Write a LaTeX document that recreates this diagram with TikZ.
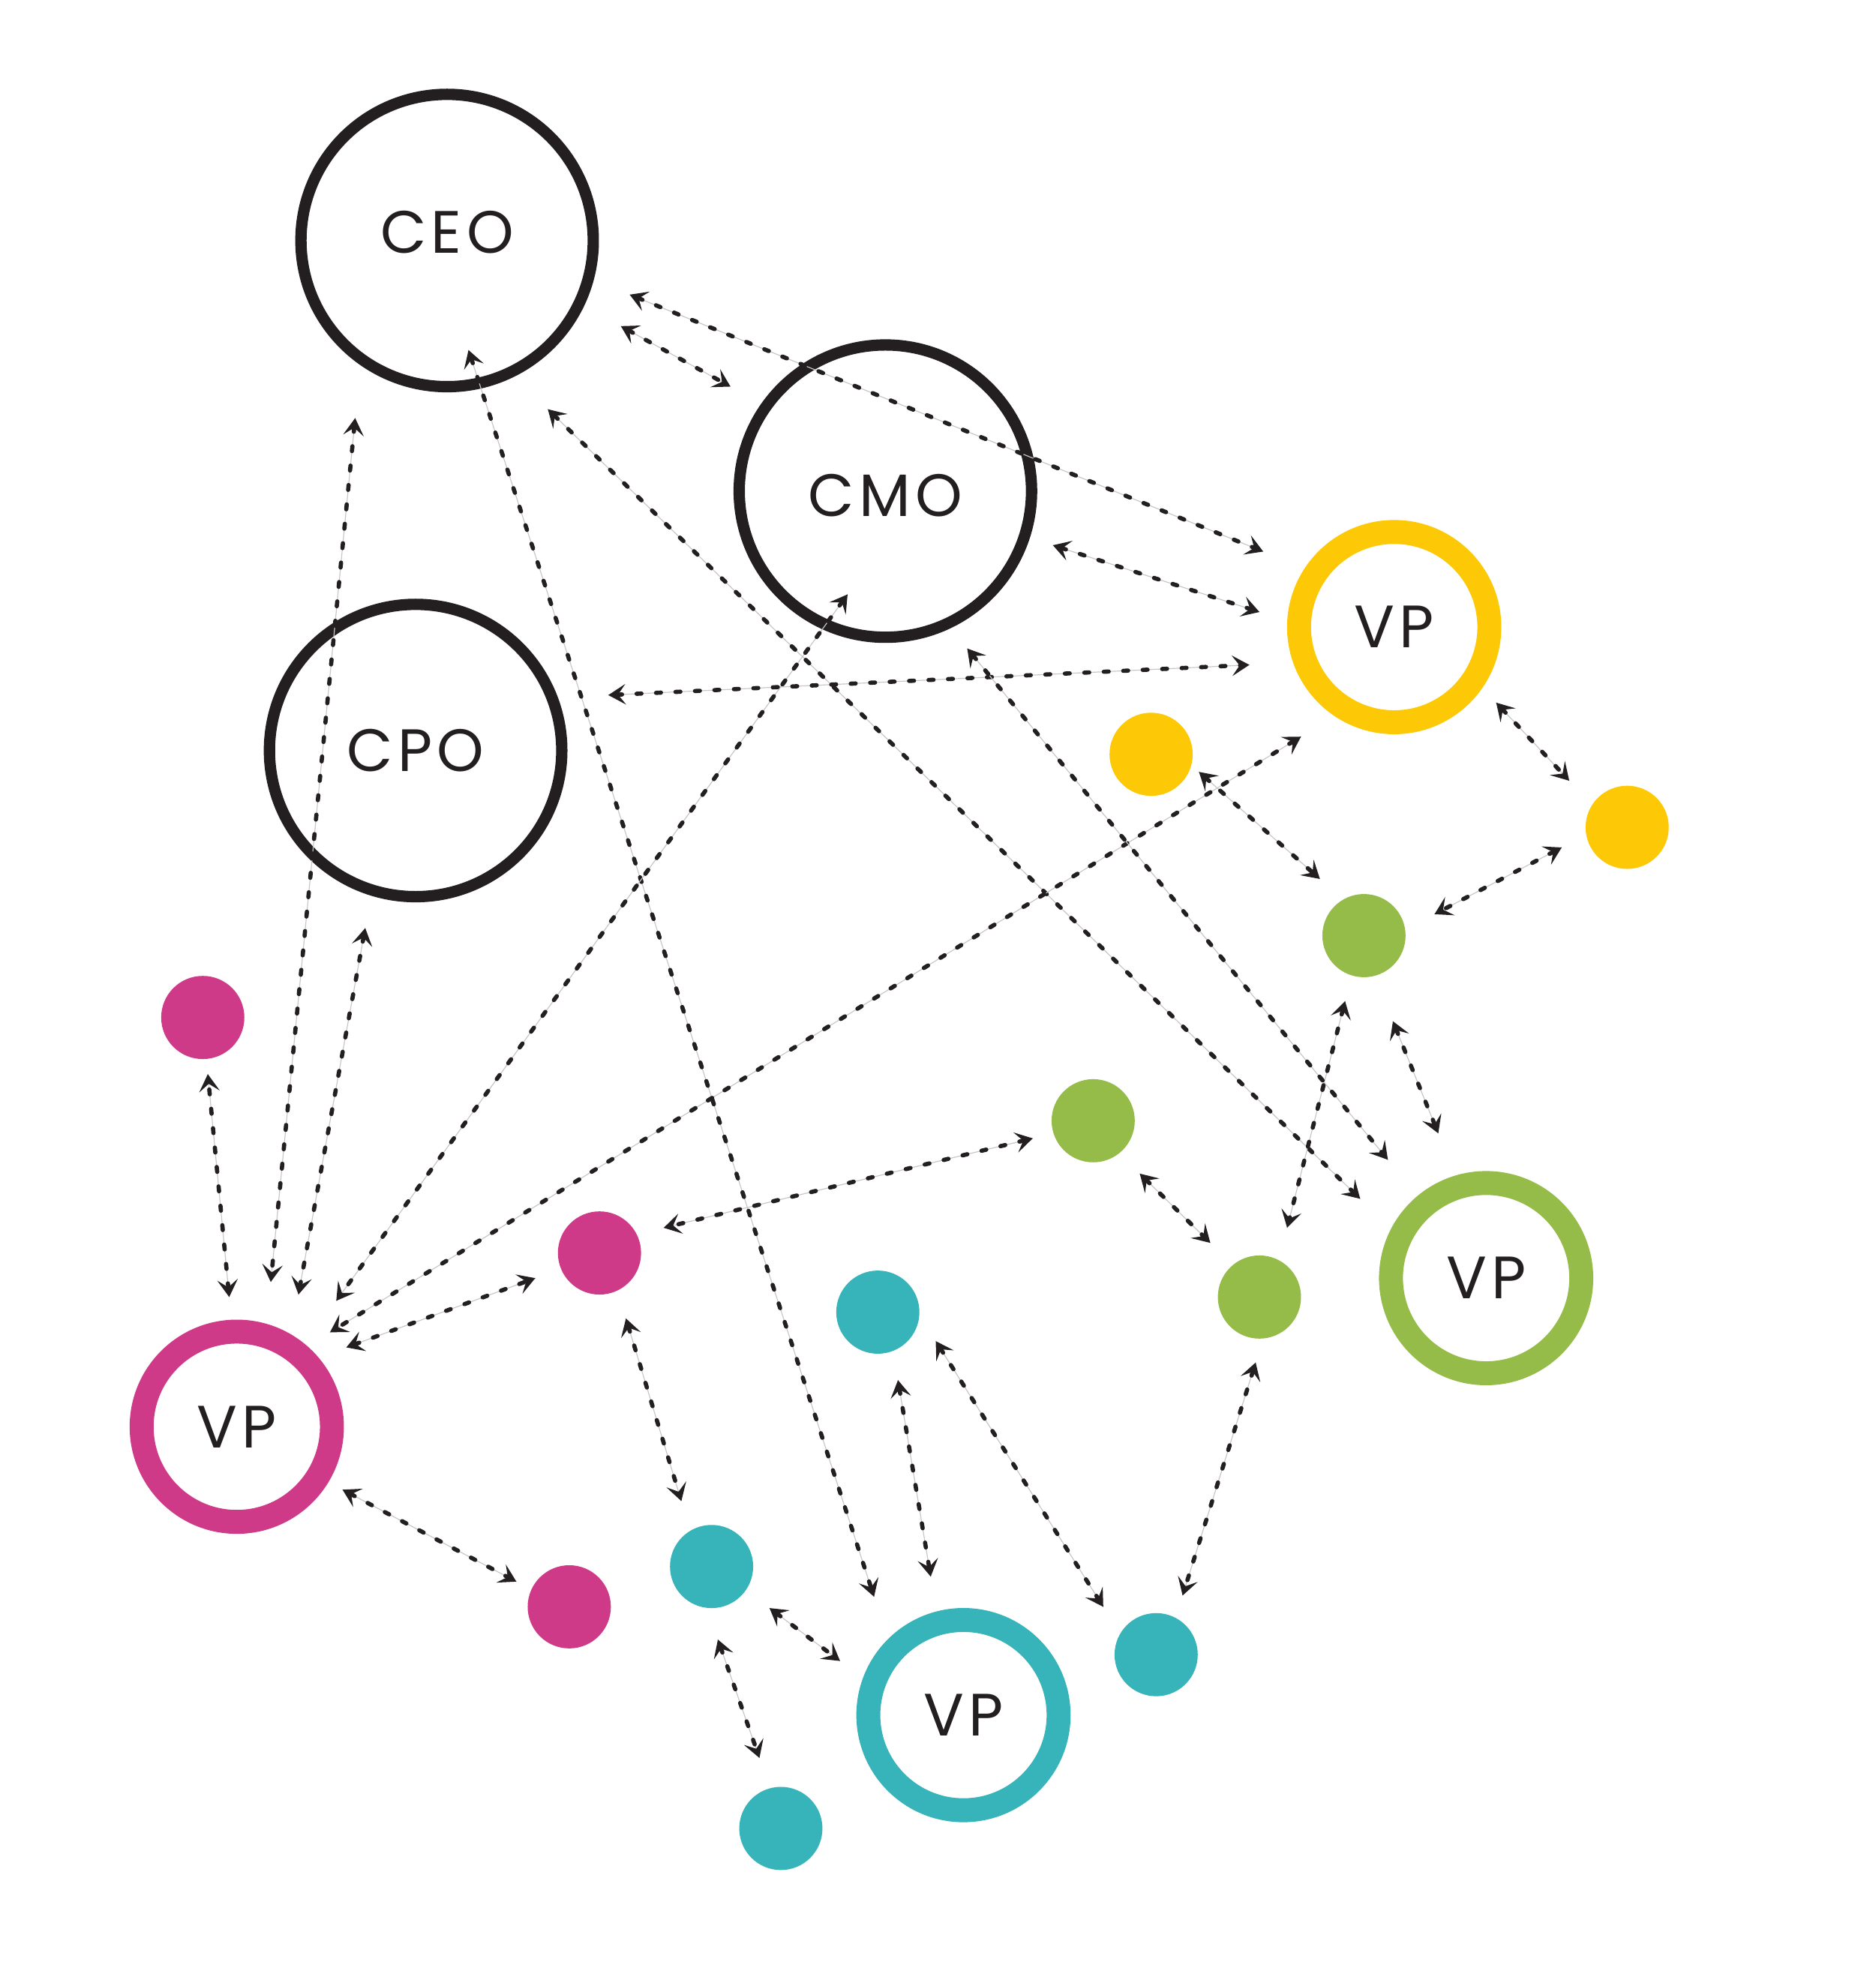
\documentclass[tikz,border=0pt]{standalone}
\usepackage{fontspec}
\setmainfont{Poppins}[LetterSpace=8]
\usetikzlibrary{arrows.meta}
\definecolor{ink}{HTML}{231F20}
\definecolor{cyel}{HTML}{FDC806}
\definecolor{cgrn}{HTML}{95BB49}
\definecolor{cpnk}{HTML}{CF3A88}
\definecolor{ctel}{HTML}{37B3BA}
\tikzset{
  lbl/.style={font=\fontsize{13.5}{13.5}\selectfont, text=ink},
  bigc/.style={circle, draw=ink, line width=0.09cm, minimum size=2.32cm, inner sep=0pt, lbl},
  vpc/.style={circle, draw=#1, line width=0.19cm, minimum size=1.51cm, inner sep=0pt, lbl},
  dotc/.style={circle, fill=#1, minimum size=0.66cm, inner sep=0pt},
  chev/.tip={Stealth[length=3.9pt,width=4.6pt,inset=1.7pt]},
  conn/.style={draw=ink, line width=0.95pt, dash pattern=on 1.1pt off 3.3pt, line cap=round,
    arrows={chev-chev},
    preaction={draw=black!22, line width=0.2pt, solid, arrows=-, line cap=butt}}
}
\begin{document}
\begin{tikzpicture}[x=0.01cm, y=-0.01cm]
\fill[white] (0,0) rectangle (1489,1567.6);
\useasboundingbox (0,0) rectangle (1489,1567.6);
% executives
\node[bigc, text depth=0.14cm] (ceo) at (355,191) {CEO};
\node[bigc, text height=0.41cm] (cmo) at (703,390) {CMO};
\node[bigc] (cpo) at (330,596) {CPO};
% VPs
\node[vpc=cyel] (vpy) at (1107,498) {VP};
\node[vpc=cgrn] (vpg) at (1180,1015) {VP};
\node[vpc=cpnk] (vpp) at (188,1133) {VP};
\node[vpc=ctel] (vpt) at (765,1362) {VP};
% dots
\node[dotc=cyel] (y1) at (914,599) {};
\node[dotc=cyel] (y2) at (1292,657) {};
\node[dotc=cgrn] (g1) at (1083,743) {};
\node[dotc=cgrn] (g2) at (868,890) {};
\node[dotc=cgrn] (g3) at (1000,1030) {};
\node[dotc=cpnk] (p1) at (161,808) {};
\node[dotc=cpnk] (p2) at (476,995) {};
\node[dotc=cpnk] (p3) at (452,1276) {};
\node[dotc=ctel] (t1) at (697,1042) {};
\node[dotc=ctel] (t2) at (565,1244) {};
\node[dotc=ctel] (t3) at (918,1314) {};
\node[dotc=ctel] (t4) at (620,1452) {};
% connectors
\draw[conn] ([shift={(145,43)}]ceo.center) -- ([shift={(-104,-60)}]vpy.center);
\draw[conn] ([shift={(138,68)}]ceo.center) -- ([shift={(-123,-83)}]cmo.center);
\draw[conn] ([shift={(80,134)}]ceo.center) -- ([shift={(-100,-63)}]vpg.center);
\draw[conn] ([shift={(17,87)}]ceo.center) -- ([shift={(-71,-94)}]vpt.center);
\draw[conn] ([shift={(-73,141)}]ceo.center) -- ([shift={(27,-115)}]vpp.center);
\draw[conn] ([shift={(-40,141)}]cpo.center) -- ([shift={(49,-105)}]vpp.center);
\draw[conn] ([shift={(-30,82)}]cmo.center) -- ([shift={(79,-100)}]vpp.center);
\draw[conn] ([shift={(-74,87)}]vpy.center) -- ([shift={(74,-75)}]vpp.center);
\draw[conn] ([shift={(87,-63)}]vpp.center) -- ([shift={(-51,20)}]p2.center);
\draw[conn] ([shift={(-6,-103)}]vpp.center) -- ([shift={(4,45)}]p1.center);
\draw[conn] ([shift={(84,50)}]vpp.center) -- ([shift={(-42,-20)}]p3.center);
\draw[conn] ([shift={(153,-44)}]cpo.center) -- ([shift={(-115,30)}]vpy.center);
\draw[conn] ([shift={(133,43)}]cmo.center) -- ([shift={(-107,-12)}]vpy.center);
\draw[conn] ([shift={(81,60)}]vpy.center) -- ([shift={(-46,-37)}]y2.center);
\draw[conn] ([shift={(38,14)}]y1.center) -- ([shift={(-35,-45)}]g1.center);
\draw[conn] ([shift={(-52,16)}]y2.center) -- ([shift={(56,-17)}]g1.center);
\draw[conn] ([shift={(23,68)}]g1.center) -- ([shift={(-38,-115)}]vpg.center);
\draw[conn] ([shift={(-15,52)}]g1.center) -- ([shift={(22,-55)}]g3.center);
\draw[conn] ([shift={(-48,14)}]g2.center) -- ([shift={(51,-20)}]p2.center);
\draw[conn] ([shift={(37,42)}]g2.center) -- ([shift={(-39,-43)}]g3.center);
\draw[conn] ([shift={(-3,52)}]g3.center) -- ([shift={(21,-47)}]t3.center);
\draw[conn] ([shift={(46,23)}]t1.center) -- ([shift={(-42,-38)}]t3.center);
\draw[conn] ([shift={(16,54)}]t1.center) -- ([shift={(-26,-110)}]vpt.center);
\draw[conn] ([shift={(21,52)}]p2.center) -- ([shift={(-24,-52)}]t2.center);
\draw[conn] ([shift={(46,33)}]t2.center) -- ([shift={(-98,-43)}]vpt.center);
\draw[conn] ([shift={(5,58)}]t2.center) -- ([shift={(-17,-56)}]t4.center);
\draw[conn] ([shift={(65,125)}]cmo.center) -- ([shift={(-78,-94)}]vpg.center);
\end{tikzpicture}
\end{document}
